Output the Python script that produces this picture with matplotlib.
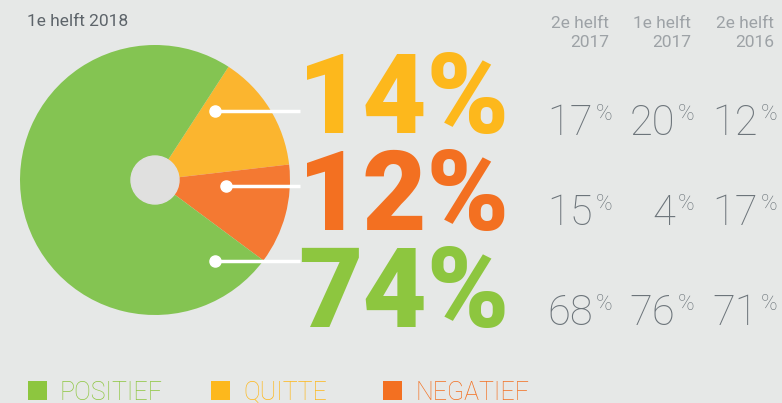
import matplotlib
matplotlib.use("Agg")
import matplotlib.pyplot as plt
from matplotlib.patches import Circle, Rectangle

# Data
labels = ["POSITIEF", "QUITTE", "NEGATIEF"]
current = [74, 14, 12]          # 1e helft 2018
periods = ["2e helft\n2017", "1e helft\n2017", "2e helft\n2016"]
history = {                     # per category, per period
    "QUITTE":   [17, 20, 12],
    "NEGATIEF": [15, 4, 17],
    "POSITIEF": [68, 76, 71],
}

bg = "#e6e8e7"
pie_col = {"POSITIEF": "#84c452", "QUITTE": "#fbb52f", "NEGATIEF": "#f47932"}
txt_col = {"POSITIEF": "#8dc63f", "QUITTE": "#fdb81c", "NEGATIEF": "#f37021"}
grey = "#6c747a"

fig = plt.figure(figsize=(7.82, 4.03), dpi=100, facecolor=bg)
ax = fig.add_axes([0, 0, 1, 1])
ax.set_facecolor(bg)
H = 403

# pie, drawn clockwise from the top-right: quitte, negatief, positief
order = ["QUITTE", "NEGATIEF", "POSITIEF"]
vals = [current[labels.index(k)] for k in order]
ax.pie(vals, colors=[pie_col[k] for k in order], startangle=57,
       counterclock=False, center=(155, H - 180), radius=135,
       wedgeprops=dict(linewidth=0))
ax.add_patch(Circle((155, H - 180), 24, color="#e0e0df", zorder=3))

ax.text(27, H - 22, "1e helft 2018", fontsize=12.5, color="#5d646a",
        family="Roboto", va="center", ha="left")

# leader lines + big numbers
rows_y = {"QUITTE": 111, "NEGATIEF": 186, "POSITIEF": 261}
dot_x = {"QUITTE": 215, "NEGATIEF": 226, "POSITIEF": 215}
big_base = {"QUITTE": 133, "NEGATIEF": 230, "POSITIEF": 327}
small_base = {"QUITTE": 135, "NEGATIEF": 225, "POSITIEF": 325}
for k in order:
    y = H - rows_y[k]
    ax.plot([dot_x[k], 300], [y, y], color="white", lw=2.5, zorder=4,
            solid_capstyle="butt")
    ax.plot(dot_x[k], y, "o", color="white", ms=8, zorder=5)
    ax.text(298, H - big_base[k], f"{current[labels.index(k)]}%",
            fontsize=80, fontweight="black", family="Roboto",
            color=txt_col[k], ha="left", va="baseline")

# history columns
col_right = [611, 693, 776]
for j, p in enumerate(periods):
    ax.text(col_right[j] - 2, H - 16, p, fontsize=12.5, color="#9da2a6",
            family="Roboto", ha="right", va="top", linespacing=1.3)
    for k in order:
        v = history[k][j]
        ax.text(col_right[j] - 18, H - small_base[k], str(v), fontsize=30,
                color=grey, family="Roboto", fontweight="light",
                ha="right", va="baseline")
        ax.text(col_right[j] + 1, H - small_base[k] + 15, "%", fontsize=16,
                color=grey, family="Roboto", fontweight="light",
                ha="right", va="baseline")

# legend
leg_x = [28, 211, 383]
for i, k in enumerate(labels):
    ax.add_patch(Rectangle((leg_x[i], H - 400), 19, 19, color=txt_col[k],
                           lw=0))
    ax.text(leg_x[i] + 32, H - 400, k, fontsize=18, color=txt_col[k],
            family="Roboto", fontweight="light", ha="left", va="baseline")

ax.set_xlim(0, 782)
ax.set_ylim(0, H)
ax.set_aspect("auto")
ax.axis("off")
fig.savefig("out.png", dpi=100, facecolor=bg)
